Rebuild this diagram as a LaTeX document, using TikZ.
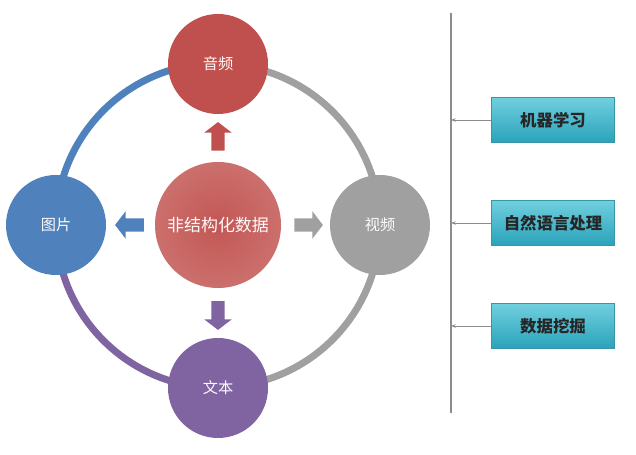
\documentclass[tikz,border=0pt]{standalone}
\usepackage{fontspec}
\newfontfamily\cjk{Noto Sans CJK SC}
\usetikzlibrary{positioning, arrows.meta, shapes.arrows, backgrounds}

\definecolor{audiored}{HTML}{C0504D}
\definecolor{imageblue}{HTML}{4F81BD}
\definecolor{videogray}{HTML}{A0A0A0}
\definecolor{textpurple}{HTML}{8064A2}
\definecolor{tasktop}{HTML}{70D0DE}
\definecolor{taskbot}{HTML}{2AA2BA}
\definecolor{taskline}{HTML}{3A95A8}

\begin{document}
\begin{tikzpicture}[
    x=0.03cm,
    y=-0.03cm,
    media/.style={
        circle,
        minimum size=3cm,
        inner sep=0pt,
        text=white!92!pink,
        font=\cjk\fontsize{13}{13}\selectfont
    },
    hub/.style={
        circle,
        minimum size=3.78cm,
        inner sep=0pt,
        inner color=audiored!96!white,
        outer color=audiored!82!white,
        text=white!92!pink,
        font=\cjk\fontsize{14.5}{14.5}\selectfont
    },
    blockarrow/.style={
        single arrow,
        minimum height=0.86cm,
        inner sep=0.195cm,
        single arrow head extend=0.21cm,
        single arrow tip angle=105
    },
    task/.style={
        rectangle,
        draw=taskline,
        top color=tasktop,
        bottom color=taskbot,
        minimum width=3.69cm,
        minimum height=1.35cm,
        text=black!85,
        font=\cjk\bfseries\fontsize{14}{14}\selectfont
    },
    ring/.style={line width=0.21cm},
    arrow/.style={-{Stealth[length=4pt, width=3pt]}, draw=gray!90, line width=0.7pt}
]
\useasboundingbox (0,0) rectangle (636,455);

% data types
\node[hub] (data) at (218,225) {非结构化数据};
\node[media, fill=audiored] (audio) at (218,64) {音频};
\node[media, fill=imageblue] (image) at (56,225) {图片};
\node[media, fill=videogray] (video) at (380,225) {视频};
\node[media, fill=textpurple] (text) at (218,388) {文本};

\begin{pgfonlayer}{background}
\draw[ring, imageblue] (image.center) arc[start angle=180, end angle=90, radius=4.86cm];
\draw[ring, videogray] (audio.center) arc[start angle=90, end angle=0, radius=4.86cm];
\draw[ring, videogray] (video.center) arc[start angle=0, end angle=-90, radius=4.86cm];
\draw[ring, textpurple] (text.center) arc[start angle=-90, end angle=-180, radius=4.86cm];
\end{pgfonlayer}

\node[blockarrow, fill=audiored, shape border rotate=90] (toaudio) at (218,139) {};
\node[blockarrow, fill=imageblue, shape border rotate=180] (toimage) at (132,225) {};
\node[blockarrow, fill=videogray] (tovideo) at (306,225) {};
\node[blockarrow, fill=textpurple, shape border rotate=270] (totext) at (218,313) {};

% methods
\coordinate (ltop) at (451,13);
\coordinate (lbot) at (451,413);
\draw[gray!90, line width=0.06cm] (ltop) -- (lbot);

\node[task] (ml) at (553,120) {机器学习};
\node[task] (nlp) at (553,223) {自然语言处理};
\node[task] (mining) at (553,326) {数据挖掘};

\draw[arrow] (ml.west) -- (ml.west -| ltop);
\draw[arrow] (nlp.west) -- (nlp.west -| ltop);
\draw[arrow] (mining.west) -- (mining.west -| ltop);

\end{tikzpicture}
\end{document}
